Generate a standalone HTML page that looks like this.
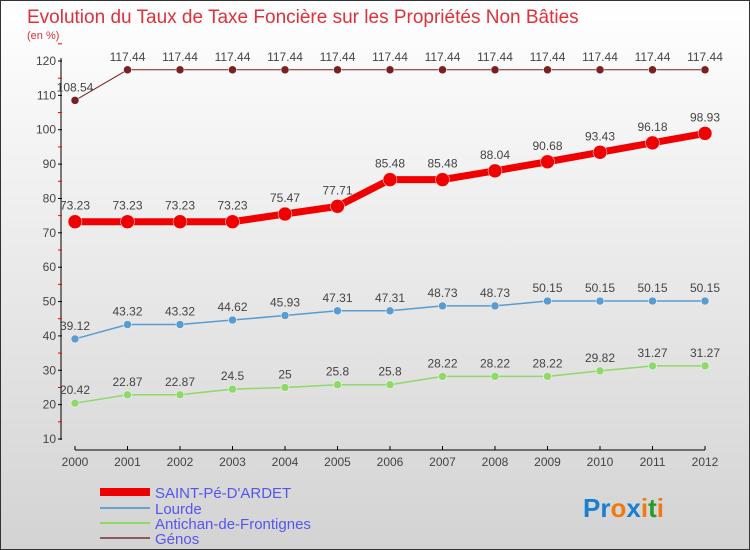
<!DOCTYPE html>
<html><head><meta charset="utf-8"><style>
body{margin:0}
#c{width:750px;height:550px;position:relative;box-sizing:border-box;border:1px solid #333;background:linear-gradient(#ffffff,#d3d3d3);font-family:"Liberation Sans",sans-serif;overflow:hidden}
</style></head><body>
<div id="c">
<svg id="s" width="750" height="550" style="position:absolute;left:-1px;top:-1px">
<text x="27" y="23" font-size="19" fill="#e0303a">Evolution du Taux de Taxe Foncière sur les Propriétés Non Bâties</text>
<text x="27" y="39" font-size="11" fill="#e0303a">(en %)</text>
<g id="g"></g>
<g>
<rect x="100" y="488" width="50" height="8" fill="#e00"/>
<text x="155" y="498" font-size="15" fill="#5555ee">SAINT-Pé-D'ARDET</text>
<rect x="100" y="507" width="50" height="2" fill="#6aa3cf"/>
<text x="155" y="514" font-size="15" fill="#5555ee">Lourde</text>
<rect x="100" y="522" width="50" height="2" fill="#8fd86a"/>
<text x="155" y="529" font-size="15" fill="#5555ee">Antichan-de-Frontignes</text>
<rect x="100" y="537" width="50" height="2" fill="#8b5a5a"/>
<text x="155" y="544" font-size="15" fill="#5555ee">Génos</text>
</g>
<text x="583" y="517" font-size="26" font-weight="bold"><tspan fill="#1a7fd0">Pr</tspan><tspan fill="#f07a10">o</tspan><tspan fill="#1a7fd0">x</tspan><tspan fill="#f07a10">i</tspan><tspan fill="#2a9a2a">t</tspan><tspan fill="#f07a10">i</tspan></text>
</svg>
</div>
<script>
const years=[2000,2001,2002,2003,2004,2005,2006,2007,2008,2009,2010,2011,2012];
const yTicks=[10,20,30,40,50,60,70,80,90,100,110,120];
const saint=[73.23,73.23,73.23,73.23,75.47,77.71,85.48,85.48,88.04,90.68,93.43,96.18,98.93];
const lourde=[39.12,43.32,43.32,44.62,45.93,47.31,47.31,48.73,48.73,50.15,50.15,50.15,50.15];
const antichan=[20.42,22.87,22.87,24.5,25,25.8,25.8,28.22,28.22,28.22,29.82,31.27,31.27];
const genos=[108.54,117.44,117.44,117.44,117.44,117.44,117.44,117.44,117.44,117.44,117.44,117.44,117.44];
const X=i=>75+i*52.5, Y=v=>439-(v-10)*(378/110);
const g=document.getElementById('g'),NS='http://www.w3.org/2000/svg';
function mk(t,a,p){const e=document.createElementNS(NS,t);for(const k in a)e.setAttribute(k,a[k]);(p||g).appendChild(e);return e;}
let e;
e=mk('line',{x1:61,y1:58,x2:61,y2:440,stroke:'#000','stroke-width':1});


e=mk('line',{x1:75,y1:450,x2:705,y2:450,stroke:'#000','stroke-width':1});


yTicks.forEach(v=>{
 mk('line',{x1:58,x2:62,y1:Y(v),y2:Y(v),stroke:'#000'});
 mk('line',{x1:58,x2:62,y1:Y(v+5),y2:Y(v+5),stroke:'#e00'});
 e=mk('text',{x:56,y:Y(v)+4,'font-size':12,fill:'#444','text-anchor':'end'});e.textContent=v;
 
 
});
years.forEach((y,i)=>{
 mk('line',{x1:X(i),x2:X(i),y1:446,y2:450,stroke:'#000'});
 e=mk('text',{x:X(i),y:466,'font-size':12,fill:'#444','text-anchor':'middle'});e.textContent=y;
 
 
});
function series(d,col,w,r,name){
 e=mk('polyline',{points:d.map((v,i)=>X(i)+','+Y(v)).join(' '),fill:'none',stroke:col,'stroke-width':w});
 
 
 d.forEach((v,i)=>{
  e=mk('circle',{cx:X(i),cy:Y(v),r:r,fill:col,stroke:'#fff','stroke-width':0.5});
  
  
  e=mk('text',{x:X(i),y:Y(v)-(r+5),'font-size':12,fill:'#444','text-anchor':'middle'});e.textContent=v;
  
  
 });
}
series(genos,'#7a2020',1,4,'genos');
series(antichan,'#8fd86a',1.5,4,'antichan');
series(lourde,'#5a9bd0',1.5,4,'lourde');
series(saint,'#f00000',7,7,'saint-pe');
</script>
</body></html>
